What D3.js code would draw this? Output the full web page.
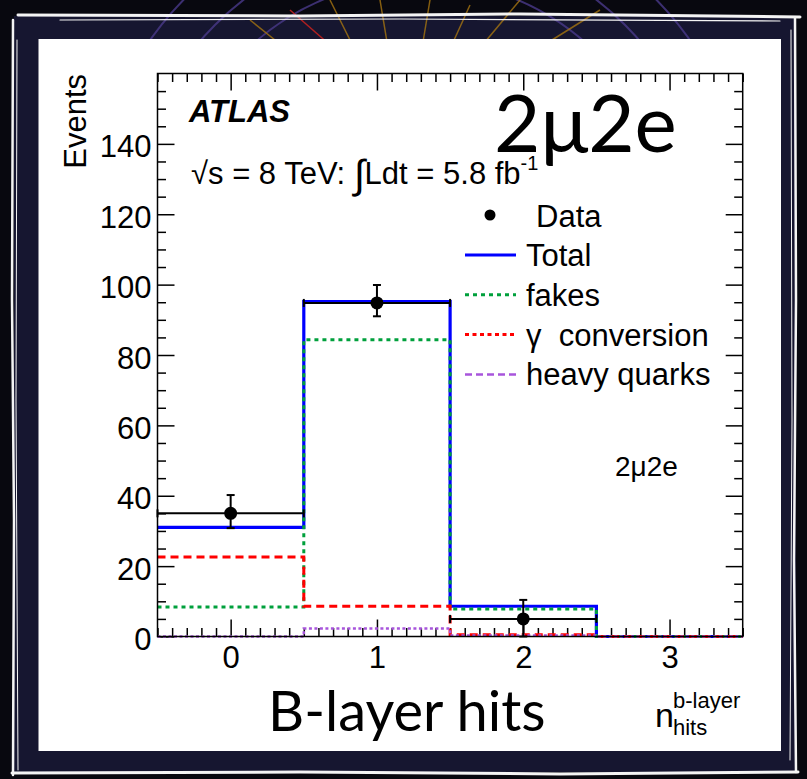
<!DOCTYPE html>
<html>
<head>
<meta charset="utf-8">
<script src="https://cdn.jsdelivr.net/npm/d3@7"></script>
<style>
  html, body { margin: 0; padding: 0; background: #000; }
  svg { display: block; }
</style>
</head>
<body>
<script>
// Bin centres of the b-layer hit multiplicity
const bins = [0, 1, 2, 3];
const xTickLabels = ["0", "1", "2", "3"];
const yTickValues = [0, 20, 40, 60, 80, 100, 120, 140];

// Expected contributions per bin
const totalVals = [31.0, 95.2, 8.6, 0];
const fakesVals = [8.4, 84.3, 7.8, 0];
const convVals  = [22.6, 8.6, 0.5, 0];
const hqVals    = [0, 2.3, 0.3, 0];

// Observed events with asymmetric uncertainties
const dataVals    = [35, 94.8, 5, 0];
const dataErrUp   = [5.2, 5.1, 5.4, 0];
const dataErrDown = [4.2, 3.8, 5.0, 0];

const legendLabels = ["Total", "fakes", "\u03b3  conversion", "heavy quarks"];

const W = 807, H = 779;
const svg = d3.select("body").append("svg").attr("width", W).attr("height", H);

// ---- backdrop: dark event-display style background ----
svg.append("rect").attr("width", W).attr("height", H).attr("fill", "#08080f");
svg.append("rect").attr("x", 14).attr("y", 16).attr("width", 782).attr("height", 756).attr("fill", "#161630");
const deco = svg.append("g").attr("fill", "none");
[[420, 230, 330], [420, 230, 290], [420, 230, 250]].forEach(([cx, cy, r]) => {
  deco.append("circle").attr("cx", cx).attr("cy", cy).attr("r", r)
    .attr("stroke", "#4a3a8a").attr("stroke-width", 2).attr("opacity", 0.8);
});
[[330, 0, 360, 60], [380, 0, 390, 60], [430, 0, 420, 60], [470, 5, 445, 60], [520, 0, 470, 60], [600, 10, 520, 60], [250, 20, 300, 60]]
  .forEach(([x1, y1, x2, y2]) => {
    deco.append("line").attr("x1", x1).attr("y1", y1).attr("x2", x2).attr("y2", y2)
      .attr("stroke", "#a57410").attr("stroke-width", 1.5).attr("opacity", 0.8);
  });
deco.append("line").attr("x1", 290).attr("y1", 10).attr("x2", 330).attr("y2", 45)
  .attr("stroke", "#b02020").attr("stroke-width", 1.5);

// hand-drawn white frame
const frame = svg.append("g").attr("fill", "none").attr("stroke", "#f4f4f4").attr("stroke-linecap", "round");
frame.append("path").attr("d", "M18,15 L300,16 L520,14 L800,17").attr("stroke-width", 3);
frame.append("path").attr("d", "M60,20 L400,19 L780,21").attr("stroke-width", 1.2);
frame.append("path").attr("d", "M13,20 L12,300 L14,520 L13,775").attr("stroke-width", 2.5);
frame.append("path").attr("d", "M17,40 L16,400 L18,770").attr("stroke-width", 1);
frame.append("path").attr("d", "M795,18 L796,300 L794,560 L796,772").attr("stroke-width", 2.5);
frame.append("path").attr("d", "M791,30 L792,420 L790,760").attr("stroke-width", 1);
frame.append("path").attr("d", "M12,773 L300,772 L560,774 L798,772").attr("stroke-width", 3);

// white panel
svg.append("rect").attr("x", 38.5).attr("y", 39).attr("width", 742.5).attr("height", 712).attr("fill", "#fff");

// ---- plot area ----
const x = d3.scaleLinear().domain([-0.5, 3.5]).range([157.5, 742.7]);
const y = d3.scaleLinear().domain([0, 160]).range([636.5, 73.5]);
const FONT = "'Liberation Sans', Arial, Helvetica, sans-serif";

const majX = d3.range(0, 4, 1);
const minX = d3.range(-0.5, 3.5001, 0.1).map(v => +v.toFixed(2)).filter(v => Math.abs(v - Math.round(v)) > 1e-6);
const majY = yTickValues;
const minY = d3.range(0, 160.001, 5).filter(v => v % 20 !== 0);

function styleAxis(g) {
  g.select(".domain").remove();
  g.selectAll(".tick line").attr("stroke", "#000").attr("stroke-width", 1.5);
  g.selectAll(".tick text").attr("font-family", FONT).attr("font-size", 31).attr("fill", "#000");
}

// bottom axis (labelled) and minor ticks
svg.append("g").attr("transform", `translate(0,${y(0)})`)
  .call(d3.axisBottom(x).tickValues(majX).tickFormat((d, i) => xTickLabels[i]).tickSize(-17).tickPadding(9))
  .call(styleAxis);
svg.append("g").attr("transform", `translate(0,${y(0)})`)
  .call(d3.axisBottom(x).tickValues(minX).tickFormat("").tickSize(-8.5)).call(styleAxis);
// top axis
svg.append("g").attr("transform", `translate(0,${y(160)})`)
  .call(d3.axisTop(x).tickValues(majX).tickFormat("").tickSize(-17)).call(styleAxis);
svg.append("g").attr("transform", `translate(0,${y(160)})`)
  .call(d3.axisTop(x).tickValues(minX).tickFormat("").tickSize(-8.5)).call(styleAxis);
// left axis (labelled)
svg.append("g").attr("transform", `translate(${x(-0.5)},0)`)
  .call(d3.axisLeft(y).tickValues(majY).tickFormat(d3.format("d")).tickSize(-17).tickPadding(6))
  .call(styleAxis)
  .call(g => g.selectAll(".tick text").attr("dy", "0.42em"));
svg.append("g").attr("transform", `translate(${x(-0.5)},0)`)
  .call(d3.axisLeft(y).tickValues(minY).tickFormat("").tickSize(-8.5)).call(styleAxis);
// right axis
svg.append("g").attr("transform", `translate(${x(3.5)},0)`)
  .call(d3.axisRight(y).tickValues(majY).tickFormat("").tickSize(-17)).call(styleAxis);
svg.append("g").attr("transform", `translate(${x(3.5)},0)`)
  .call(d3.axisRight(y).tickValues(minY).tickFormat("").tickSize(-8.5)).call(styleAxis);

// ---- histograms as step outlines ----
const step = d3.line().x(d => x(d[0])).y(d => y(d[1])).curve(d3.curveStepAfter);
function stepPoints(vals) {
  const pts = bins.map((b, i) => [b - 0.5, vals[i]]);
  pts.push([bins[bins.length - 1] + 0.5, vals[vals.length - 1]]);
  return pts;
}
const series = [
  { vals: totalVals, color: "#0000ff", width: 3.2, dash: null, legendDash: null },
  { vals: fakesVals, color: "#00a03c", width: 3, dash: "4,4", legendDash: "4,4" },
  { vals: convVals,  color: "#ff0000", width: 3, dash: "8,5", legendDash: "4,3.5" },
  { vals: hqVals,    color: "#a855dc", width: 2.5, dash: "3,2.5", legendDash: "7,4" }
];
series.forEach(s => {
  svg.append("path").attr("d", step(stepPoints(s.vals)))
    .attr("fill", "none").attr("stroke", s.color).attr("stroke-width", s.width)
    .attr("stroke-dasharray", s.dash);
});

// ---- data points with error bars ----
const dataG = svg.append("g").attr("stroke", "#000").attr("stroke-width", 2);
bins.forEach((b, i) => {
  const v = dataVals[i];
  if (v <= 0) return;
  const yc = y(v), xl = x(b - 0.5), xr = x(b + 0.5), xc = x(b);
  dataG.append("line").attr("x1", xl).attr("x2", xr).attr("y1", yc).attr("y2", yc);
  dataG.append("line").attr("x1", xl).attr("x2", xl).attr("y1", yc - 4).attr("y2", yc + 4);
  dataG.append("line").attr("x1", xr).attr("x2", xr).attr("y1", yc - 4).attr("y2", yc + 4);
  const yt = y(v + dataErrUp[i]), yb = y(v - dataErrDown[i]);
  dataG.append("line").attr("x1", xc).attr("x2", xc).attr("y1", yt).attr("y2", yb);
  dataG.append("line").attr("x1", xc - 4).attr("x2", xc + 4).attr("y1", yt).attr("y2", yt);
  dataG.append("line").attr("x1", xc - 4).attr("x2", xc + 4).attr("y1", yb).attr("y2", yb);
  dataG.append("circle").attr("cx", xc).attr("cy", yc).attr("r", 6.5).attr("fill", "#000").attr("stroke", "none");
});

// plot frame
svg.append("rect").attr("x", x(-0.5)).attr("y", y(160))
  .attr("width", x(3.5) - x(-0.5)).attr("height", y(0) - y(160))
  .attr("fill", "none").attr("stroke", "#000").attr("stroke-width", 1.5);

// ---- legend ----
const lg = svg.append("g").attr("font-family", FONT).attr("font-size", 31);
lg.append("circle").attr("cx", 490).attr("cy", 215).attr("r", 5.5).attr("fill", "#000");
lg.append("text").attr("x", 536).attr("y", 227).text("Data");
legendLabels.forEach((lab, i) => {
  const yy = 255 + i * 39.8;
  const s = series[i];
  lg.append("line").attr("x1", 465).attr("x2", 516).attr("y1", yy).attr("y2", yy)
    .attr("stroke", s.color).attr("stroke-width", s.width).attr("stroke-dasharray", s.legendDash);
  lg.append("text").attr("x", 526).attr("y", yy + 11).attr("xml:space", "preserve").text(lab);
});

// ---- annotations ----
svg.append("text").attr("x", 189).attr("y", 122).attr("font-family", FONT)
  .attr("font-size", 31).attr("font-weight", "bold").attr("font-style", "italic").text("ATLAS");

const lumi = svg.append("text").attr("x", 191).attr("y", 184).attr("font-family", FONT).attr("font-size", 31);
lumi.append("tspan").text("\u221as = 8 TeV:  ");
lumi.append("tspan").attr("font-size", 40).attr("dy", 4).text("\u222b");
lumi.append("tspan").attr("dy", -4).text("Ldt = 5.8 fb");
lumi.append("tspan").attr("font-size", 20).attr("dy", -14).text("-1");

svg.append("text").attr("x", 615).attr("y", 476).attr("font-family", FONT).attr("font-size", 28).text("2\u03bc2e");

svg.append("text").attr("x", 494).attr("y", 152).attr("font-family", "Lato, 'Open Sans', sans-serif")
  .attr("font-size", 80).text("2\u03bc2e");

// axis titles
svg.append("text").attr("transform", `translate(86,74) rotate(-90)`).attr("text-anchor", "end")
  .attr("font-family", FONT).attr("font-size", 31).text("Events");

svg.append("text").attr("x", 268).attr("y", 731).attr("font-family", "Lato, 'Open Sans', sans-serif")
  .attr("font-size", 56).text("B-layer hits");

const nl = svg.append("text").attr("x", 655).attr("y", 727).attr("font-family", FONT).attr("font-size", 34);
nl.append("tspan").text("n");
nl.append("tspan").attr("x", 673).attr("y", 708).attr("font-size", 22).text("b-layer");
nl.append("tspan").attr("x", 673).attr("y", 735).attr("font-size", 22).text("hits");
</script>
</body>
</html>
